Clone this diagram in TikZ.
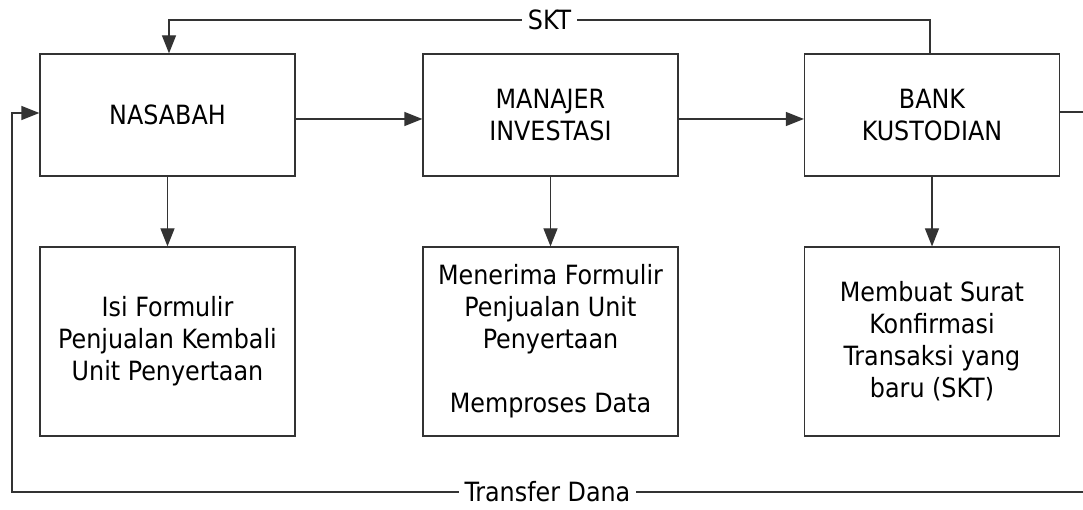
\documentclass[tikz,border=0pt]{standalone}
\usepackage{fontspec}
\setmainfont{DejaVu Sans Condensed}
\usetikzlibrary{arrows.meta}
\begin{document}
\begin{tikzpicture}[x=1pt,y=-1pt,
  box/.style={draw=black!80, line width=1.2pt, rectangle, align=center, inner sep=0pt, font=\fontsize{26.5}{32}\selectfont},
  top/.style={box, minimum width=255pt, minimum height=122pt},
  bot/.style={box, minimum width=255pt, minimum height=189pt},
  conn/.style={draw=black!80, line width=1.2pt},
  arr/.style={conn, -{Triangle[length=18pt,width=14pt]}},
  lbl/.style={fill=white, inner sep=6pt, font=\fontsize{26.5}{30}\selectfont}]
\useasboundingbox (0,0) rectangle (1083,510);
\node[top] (nas) at (167.5,115) {NASABAH};
\node[top] (man) at (550.5,115) {MANAJER\\INVESTASI};
\node[top] (bank) at (932,115) {BANK\\KUSTODIAN};
\node[bot] (b1) at (167.5,341.5) {Isi Formulir\\Penjualan Kembali\\Unit Penyertaan};
\node[bot] (b2) at (550.5,341.5) {Menerima Formulir\\Penjualan Unit\\Penyertaan\\[32pt]Memproses Data};
\node[bot] (b3) at (932,341.5) {Membuat Surat\\Konfirmasi\\Transaksi yang\\baru (SKT)};
\draw[arr] (nas.east |- 0,119) -- (man.west |- 0,119);
\draw[arr] (man.east |- 0,119) -- (bank.west |- 0,119);
\draw[arr] (nas.south) -- (b1.north);
\draw[arr] (man.south) -- (b2.north);
\draw[arr] (bank.south) -- (b3.north);
\coordinate (skta) at (930,20);
\coordinate (sktb) at (169,20);
\draw[arr] (bank.north -| skta) -- (skta) -- node[lbl, pos=0.5] (skt) {SKT} (sktb) -- (sktb |- nas.north);
\coordinate (re) at (1083,112);
\draw[conn] (bank.east |- re) -- (re);
\coordinate (br) at (1083,492);
\coordinate (bl) at (12,492);
\coordinate (tl) at (12,113);
\draw[arr] (br) -- node[lbl, pos=0.5] (td) {Transfer Dana} (bl) -- (tl) -- (nas.west |- tl);
\end{tikzpicture}
\end{document}
